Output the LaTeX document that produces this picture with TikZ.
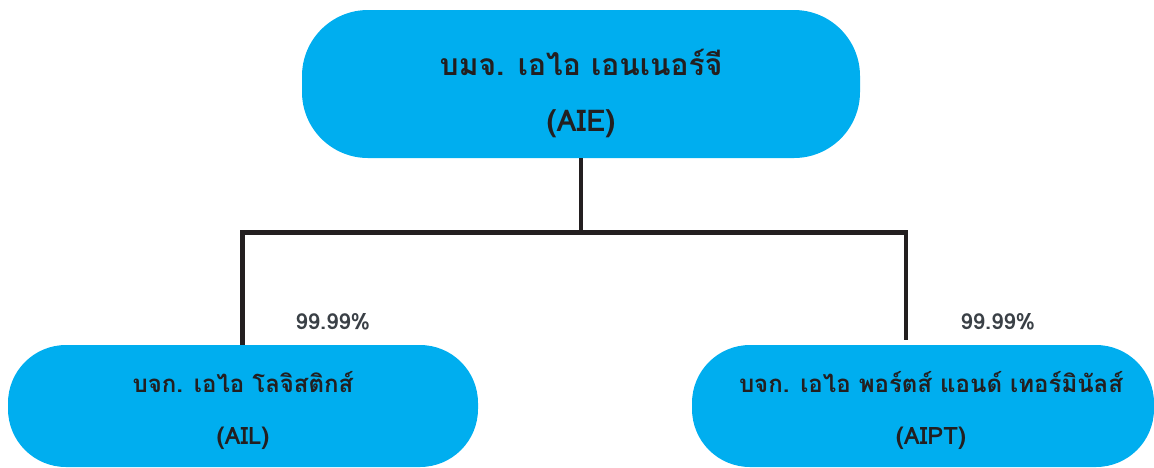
\documentclass[tikz,border=0pt]{standalone}
\usepackage{fontspec}
\setmainfont{Loma}[Script=Thai]
\definecolor{boxblue}{HTML}{00AEEF}
\definecolor{linedark}{HTML}{231F20}
\definecolor{txtdark}{HTML}{231F20}
\definecolor{pctgray}{HTML}{3A4046}

\tikzset{
    company/.style  = {fill=boxblue, inner sep=0pt},
    firmname/.style = {align=center, text=txtdark, inner sep=0pt},
    holding/.style  = {draw=linedark, line width=4.5pt, line join=miter},
    share/.style    = {text=pctgray, font=\fontsize{22}{26}\selectfont\bfseries}
}

\begin{document}
\begin{tikzpicture}[x=1pt,y=-1pt]

    \clip (0,0) rectangle (1154,467);
    \node[company, rounded corners=66pt, minimum width=558pt, minimum height=148pt] (AIE) at (581,84) {};
    \node[company, rounded corners=58pt, minimum width=470pt, minimum height=122pt] (AIL) at (243,406) {};
    \node[company, rounded corners=58pt, minimum width=462pt, minimum height=122pt] (AIPT) at (923,406) {};
    \node[firmname, font=\fontsize{30}{30}\selectfont\bfseries] (AIEname) at ([yshift=-9pt]AIE.center)
          {บมจ. เอไอ เอนเนอร์จี\\[26pt](AIE)};
    \node[firmname, font=\fontsize{24}{24}\selectfont\bfseries] (AILname) at ([yshift=-4pt]AIL.center)
          {บจก. เอไอ โลจิสติกส์\\[28pt](AIL)};
    \node[firmname, font=\fontsize{24}{24}\selectfont\bfseries] (AIPTname) at ([xshift=8pt,yshift=-4pt]AIPT.center)
          {บจก. เอไอ พอร์ตส์ แอนด์ เทอร์มินัลส์\\[28pt](AIPT)};
    \coordinate (split) at (581,232.5);
    \coordinate (JL) at (242.5,232.5);
    \coordinate (JR) at (906,232.5);
    \draw[holding] (AIE.south) -- (split);
    \draw[holding] (JL |- AIL.north) -- (JL) -- (JR) -- ([yshift=5pt]JR |- AIPT.north);
    \node[share] (pctAIL) at (333,322) {99.99\%};
    \node[share] (pctAIPT) at (998,322) {99.99\%};

\end{tikzpicture}
\end{document}
